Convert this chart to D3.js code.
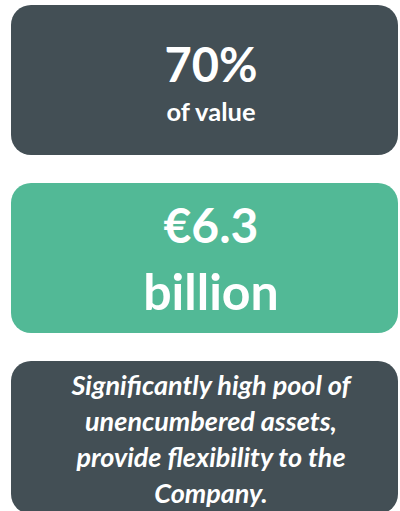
<!DOCTYPE html>
<html>
<head>
<meta charset="utf-8">
<script src="https://cdn.jsdelivr.net/npm/d3@7"></script>
<style>
  html, body { margin: 0; padding: 0; background: #ffffff; }
  svg { display: block; }
</style>
</head>
<body>
<svg id="chart" width="400" height="511"></svg>
<script>
// ---- data ----
const panels = ["share", "amount", "note"];
const panelColors = ["#434F55", "#52B996", "#434F55"];
const headlineLines = [["70%"], ["€6.3", "billion"], []];
const subLines = [["of value"], [], []];
const noteLines = ["Significantly high pool of", "unencumbered assets,", "provide flexibility to the", "Company."];

// ---- layout ----
const svg = d3.select("#chart");
const y = d3.scaleBand().domain(panels).range([5, 511]).paddingInner(0.157).paddingOuter(0);
const x0 = 11, x1 = 398;
const font = "Lato, 'Open Sans', sans-serif";

const g = svg.selectAll("g.panel").data(panels).join("g").attr("class", "panel")
  .attr("transform", d => `translate(0,${y(d)})`);

g.append("rect")
  .attr("x", x0).attr("y", 0)
  .attr("width", x1 - x0).attr("height", (d, i) => i === 2 ? y.bandwidth() + 3 : y.bandwidth())
  .attr("rx", 20).attr("ry", 20)
  .attr("fill", (d, i) => panelColors[i]);

const cx = 211;

// panel 1
const p1 = g.filter((d, i) => i === 0);
p1.append("text").text(headlineLines[0][0])
  .attr("x", cx).attr("y", 77).attr("text-anchor", "middle")
  .attr("font-family", font).attr("font-weight", 700).attr("font-size", 47).attr("fill", "#fff");
p1.append("text").text(subLines[0][0])
  .attr("x", cx).attr("y", 116).attr("text-anchor", "middle")
  .attr("font-family", font).attr("font-weight", 700).attr("font-size", 25.5).attr("fill", "#fff");

// panel 2
const p2 = g.filter((d, i) => i === 1);
p2.selectAll("text").data(headlineLines[1]).join("text").text(d => d)
  .attr("x", cx).attr("y", (d, i) => 60 + i * 67).attr("text-anchor", "middle")
  .attr("font-family", font).attr("font-weight", 700).attr("font-size", (d, i) => i === 0 ? 48 : 50).attr("fill", "#fff");

// panel 3
const p3 = g.filter((d, i) => i === 2);
p3.selectAll("text").data(noteLines).join("text").text(d => d)
  .attr("x", cx).attr("y", (d, i) => 34 + i * 36).attr("text-anchor", "middle")
  .attr("font-family", font).attr("font-weight", 700).attr("font-style", "italic")
  .attr("font-size", 27).attr("fill", "#fff");
</script>
</body>
</html>
